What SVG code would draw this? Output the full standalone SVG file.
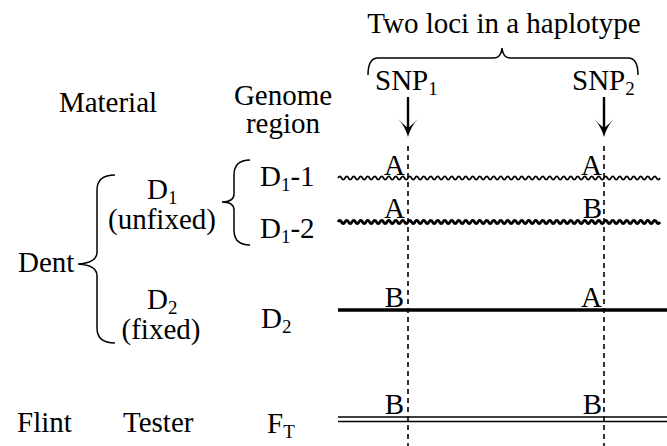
<svg xmlns="http://www.w3.org/2000/svg" width="667" height="446" viewBox="0 0 667 446">
<style>
text{font-family:"Liberation Serif","Times New Roman",serif;font-size:29px;fill:#000}
.sub{font-size:19px}
.brace{fill:none;stroke:#000;stroke-width:1.5}
.dash{stroke:#000;stroke-width:1.6;stroke-dasharray:5,4}
.arrowshaft{stroke:#000;stroke-width:2.4}
</style>
<defs>
<path id="wave" d="M338,0 q1.75,-3.4 3.5,0 t3.5,0 t3.5,0 t3.5,0 t3.5,0 t3.5,0 t3.5,0 t3.5,0 t3.5,0 t3.5,0 t3.5,0 t3.5,0 t3.5,0 t3.5,0 t3.5,0 t3.5,0 t3.5,0 t3.5,0 t3.5,0 t3.5,0 t3.5,0 t3.5,0 t3.5,0 t3.5,0 t3.5,0 t3.5,0 t3.5,0 t3.5,0 t3.5,0 t3.5,0 t3.5,0 t3.5,0 t3.5,0 t3.5,0 t3.5,0 t3.5,0 t3.5,0 t3.5,0 t3.5,0 t3.5,0 t3.5,0 t3.5,0 t3.5,0 t3.5,0 t3.5,0 t3.5,0 t3.5,0 t3.5,0 t3.5,0 t3.5,0 t3.5,0 t3.5,0 t3.5,0 t3.5,0 t3.5,0 t3.5,0 t3.5,0 t3.5,0 t3.5,0 t3.5,0 t3.5,0 t3.5,0 t3.5,0 t3.5,0 t3.5,0 t3.5,0 t3.5,0 t3.5,0 t3.5,0 t3.5,0 t3.5,0 t3.5,0 t3.5,0 t3.5,0 t3.5,0 t3.5,0 t3.5,0 t3.5,0 t3.5,0 t3.5,0 t3.5,0 t3.5,0 t3.5,0 t3.5,0 t3.5,0 t3.5,0 t3.5,0 t3.5,0 t3.5,0 t3.5,0 t3.5,0 t3.5,0" fill="none"/>
<path id="ahead" d="M-10,-18 Q-3,-11 0,0 Q3,-11 10,-18 Q4,-12 0,-9 Q-4,-12 -10,-18 Z"/>
</defs>

<g id="header">
<text x="504" y="33" text-anchor="middle">Two loci in a haplotype</text>
<path class="brace" d="M368,75 Q368,58 378,58 L494,58 Q501,58 502,48 Q503,58 510,58 L628,58 Q638,58 638,75"/>
</g>

<g id="snp1">
<text x="375" y="90">SNP<tspan class="sub" dy="5">1</tspan></text>
<line class="arrowshaft" x1="408" y1="97" x2="408" y2="130"/>
<use href="#ahead" x="408" y="137"/>
</g>
<g id="snp2">
<text x="572" y="90">SNP<tspan class="sub" dy="5">2</tspan></text>
<line class="arrowshaft" x1="604" y1="97" x2="604" y2="130"/>
<use href="#ahead" x="604" y="137"/>
</g>

<g id="col-headers">
<text x="108" y="112" text-anchor="middle">Material</text>
<text x="283" y="105" text-anchor="middle">Genome</text>
<text x="283" y="133" text-anchor="middle">region</text>
</g>

<g id="dent">
<text x="18" y="272">Dent</text>
<path class="brace" d="M115,175 Q97,175 97,190 L97,252 Q97,263 78,264 Q97,265 97,276 L97,328 Q97,343 115,343"/>
</g>

<g id="d1">
<text x="147" y="199">D<tspan class="sub" dy="5">1</tspan></text>
<text x="162" y="229" text-anchor="middle">(unfixed)</text>
<path class="brace" d="M250,160 Q234,160 234,175 L234,194 Q234,202 222,202 Q234,202 234,210 L234,230 Q234,245 250,245"/>
</g>

<g id="d2">
<text x="147" y="309">D<tspan class="sub" dy="5">2</tspan></text>
<text x="161" y="339" text-anchor="middle">(fixed)</text>
</g>

<g id="flint">
<text x="17" y="432">Flint</text>
<text x="123" y="432">Tester</text>
</g>

<g id="region-d1-1">
<text x="260" y="186">D<tspan class="sub" dy="5">1</tspan><tspan dy="-5">-1</tspan></text>
</g>
<g id="region-d1-2">
<text x="260" y="238">D<tspan class="sub" dy="5">1</tspan><tspan dy="-5">-2</tspan></text>
</g>
<g id="region-d2">
<text x="261" y="328">D<tspan class="sub" dy="5">2</tspan></text>
</g>
<g id="region-ft">
<text x="267" y="433">F<tspan class="sub" dy="5">T</tspan></text>
</g>

<g id="connectors">
<line class="dash" x1="408" y1="146" x2="408" y2="446"/>
<line class="dash" x1="604" y1="146" x2="604" y2="446"/>
<use href="#wave" y="178" stroke="#000" stroke-width="1.7"/>
<use href="#wave" y="222" stroke="#000" stroke-width="2.8"/>
<line x1="338" y1="310" x2="667" y2="310" stroke="#000" stroke-width="3.6"/>
<line x1="338" y1="417" x2="667" y2="417" stroke="#000" stroke-width="1.4"/>
<line x1="338" y1="421.5" x2="667" y2="421.5" stroke="#000" stroke-width="1.4"/>
</g>

<g id="alleles">
<text x="405" y="175" text-anchor="end">A</text>
<text x="602" y="175" text-anchor="end">A</text>
<text x="405" y="218" text-anchor="end">A</text>
<text x="602" y="218" text-anchor="end">B</text>
<text x="404" y="307" text-anchor="end">B</text>
<text x="602" y="307" text-anchor="end">A</text>
<text x="404" y="414" text-anchor="end">B</text>
<text x="602" y="414" text-anchor="end">B</text>
</g>
</svg>
